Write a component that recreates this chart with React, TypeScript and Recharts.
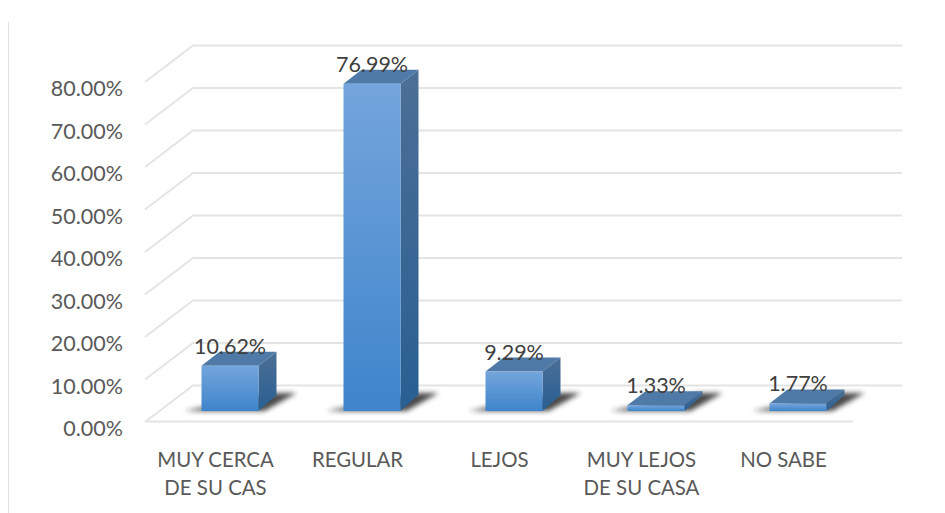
import { ComposedChart, Bar, XAxis, YAxis, CartesianGrid, LabelList } from 'recharts'

const categories = ['MUY CERCA DE SU CAS', 'REGULAR', 'LEJOS', 'MUY LEJOS DE SU CASA', 'NO SABE']
const categoryLines = [['MUY CERCA', 'DE SU CAS'], ['REGULAR'], ['LEJOS'], ['MUY LEJOS', 'DE SU CASA'], ['NO SABE']]
const percentages = [10.62, 76.99, 9.29, 1.33, 1.77]
const yTicks = [0, 10, 20, 30, 40, 50, 60, 70, 80]

const chartData = categories.map((name, i) => ({ name, value: percentages[i], lines: categoryLines[i] }))

const FONT = 'Lato, sans-serif'

function GridLine({ x1, x2, y1, offset }: any) {
  // perspective lines: short diagonal on the left, long run along the back wall
  const isFloor = Math.abs(y1 - (offset.top + offset.height)) < 1
  return (
    <g fill="none" stroke="#e4e4e4" strokeWidth={2}>
      <polyline points={`${x1 - 13.5},${y1 + 11} ${x1 + 34.5},${y1 - 25.5} ${x2 + 33.5},${y1 - 25.5}`} />
      {isFloor && <line x1={x1 - 13.5} y1={y1 + 10.5} x2={x2 - 15.5} y2={y1 + 10.5} />}
    </g>
  )
}

function Bar3D({ x, y, width, height }: any) {
  const right = x + width
  const bottom = y + height
  return (
    <g>
      <polygon
        points={`${x - 17},${bottom} ${right + 6},${bottom} ${right + 38},${bottom - 18} ${right + 14},${bottom - 18}`}
        fill="#2b2b2b"
        opacity={0.85}
        filter="url(#shadowBlur)"
      />
      <polygon
        points={`${right},${y} ${right + 18},${y - 14} ${right + 18},${bottom - 16} ${right},${bottom}`}
        fill="url(#sideFace)"
      />
      <polygon points={`${x},${y} ${x + 18},${y - 14} ${right + 18},${y - 14} ${right},${y}`} fill="#4f79a6" />
      <rect x={x} y={y} width={width} height={height} fill="url(#frontFace)" />
    </g>
  )
}

function YTick({ y, payload }: any) {
  return (
    <text x={123} y={y + 25} textAnchor="end" fontFamily={FONT} fontSize={21.5} fill="#595959">
      {payload.value.toFixed(2)}%
    </text>
  )
}

function XTick({ x, y, index }: any) {
  return (
    <text textAnchor="middle" fontFamily={FONT} fontSize={20.4} fill="#595959">
      {categoryLines[index].map((line, i) => (
        <tspan key={line} x={x - 14} y={y + 48 + i * 28}>
          {line}
        </tspan>
      ))}
    </text>
  )
}

export default function App() {
  return (
    <div style={{ position: 'absolute', left: 0, top: 0, width: 945, height: 513, background: '#fff' }}>
      <div style={{ position: 'absolute', left: 8, top: 22, width: 1, height: 491, background: '#e2e2e2' }} />
      <ComposedChart
        width={945}
        height={513}
        data={chartData}
        margin={{ top: 71, right: 76.5, bottom: 0, left: 0 }}
        style={{ position: 'absolute', left: 0, top: 0 }}
      >
        <defs>
          <linearGradient id="frontFace" x1="0" y1="0" x2="0" y2="1">
            <stop offset="0%" stopColor="#74a5dc" />
            <stop offset="100%" stopColor="#3e85cb" />
          </linearGradient>
          <linearGradient id="sideFace" x1="0" y1="0" x2="0" y2="1">
            <stop offset="0%" stopColor="#4c6f96" />
            <stop offset="100%" stopColor="#285f92" />
          </linearGradient>
          <filter id="shadowBlur" x="-30%" y="-60%" width="160%" height="220%">
            <feGaussianBlur stdDeviation="2.5" />
          </filter>
        </defs>
        <CartesianGrid vertical={false} horizontal={(props: any) => <GridLine {...props} />} />
        <XAxis dataKey="name" axisLine={false} tickLine={false} height={102} interval={0} tick={<XTick />} />
        <YAxis
          width={158.5}
          domain={[0, 80]}
          ticks={yTicks}
          interval={0}
          axisLine={false}
          tickLine={false}
          tick={<YTick />}
        />
        <Bar dataKey="value" barSize={57} isAnimationActive={false} shape={<Bar3D />}>
          <LabelList
            dataKey="value"
            position="top"
            offset={12}
            formatter={(v: any) => `${v.toFixed(2)}%`}
            style={{ fontFamily: FONT, fontSize: 21.5, fill: '#404040' }}
          />
        </Bar>
      </ComposedChart>
    </div>
  )
}
